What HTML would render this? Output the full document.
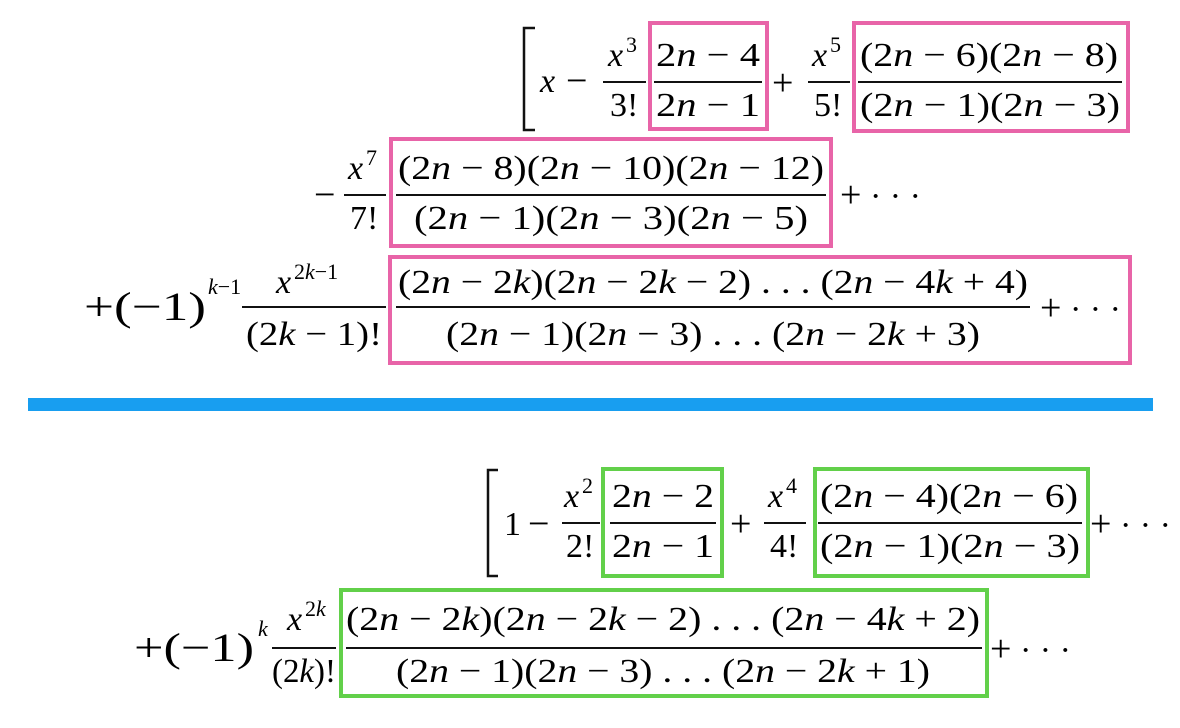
<!DOCTYPE html>
<html><head><meta charset="utf-8"><style>
html,body{margin:0;padding:0;background:#fff;}
svg{display:block;}
text{font-family:"Liberation Serif",serif;font-size:34px;fill:#000;}
.s{font-size:22px;}
.i{font-style:italic;}
</style></head><body>
<svg width="1180" height="728" viewBox="0 0 1180 728" xmlns="http://www.w3.org/2000/svg">
<g stroke="#111" stroke-width="2.5" fill="none">
<path d="M535 28 H524 V130 H535"/>
<path d="M498 470 H488 V576 H498"/>
</g>
<!-- Row 1: bar 82 -->
<text x="540" y="92" class="i">x</text>
<text x="566" y="93" style="font-size:38px">−</text>
<line x1="603" y1="82" x2="646" y2="82" stroke="#111" stroke-width="2"/>
<text x="608" y="66" class="i">x</text><text x="626" y="52" class="s">3</text>
<text x="610" y="116">3!</text>
<line x1="654" y1="82" x2="762" y2="82" stroke="#111" stroke-width="2"/>
<text x="656" y="66" textLength="104" lengthAdjust="spacingAndGlyphs">2<tspan class="i">n</tspan> − 4</text>
<text x="656" y="116" textLength="104" lengthAdjust="spacingAndGlyphs">2<tspan class="i">n</tspan> − 1</text>
<text x="772" y="95" style="font-size:38px">+</text>
<line x1="808" y1="82" x2="850" y2="82" stroke="#111" stroke-width="2"/>
<text x="812" y="66" class="i">x</text><text x="830" y="52" class="s">5</text>
<text x="814" y="116">5!</text>
<line x1="858" y1="82" x2="1122" y2="82" stroke="#111" stroke-width="2"/>
<text x="860" y="66" textLength="258" lengthAdjust="spacingAndGlyphs">(2<tspan class="i">n</tspan> − 6)(2<tspan class="i">n</tspan> − 8)</text>
<text x="860" y="116" textLength="260" lengthAdjust="spacingAndGlyphs">(2<tspan class="i">n</tspan> − 1)(2<tspan class="i">n</tspan> − 3)</text>
<rect x="650" y="23" width="117" height="106" fill="none" stroke="#e864a8" stroke-width="4"/>
<rect x="854" y="23" width="274" height="108" fill="none" stroke="#e864a8" stroke-width="4"/>
<!-- Row 2: bar 195 -->
<text x="314" y="207" style="font-size:38px">−</text>
<line x1="344" y1="195" x2="386" y2="195" stroke="#111" stroke-width="2"/>
<text x="348" y="179" class="i">x</text><text x="366" y="165" class="s">7</text>
<text x="350" y="229">7!</text>
<line x1="396" y1="195" x2="826" y2="195" stroke="#111" stroke-width="2"/>
<text x="398" y="179" textLength="426" lengthAdjust="spacingAndGlyphs">(2<tspan class="i">n</tspan> − 8)(2<tspan class="i">n</tspan> − 10)(2<tspan class="i">n</tspan> − 12)</text>
<text x="414" y="229" textLength="394" lengthAdjust="spacingAndGlyphs">(2<tspan class="i">n</tspan> − 1)(2<tspan class="i">n</tspan> − 3)(2<tspan class="i">n</tspan> − 5)</text>
<text x="840" y="207"><tspan style="font-size:38px">+</tspan> · · ·</text>
<rect x="391" y="139" width="440" height="107" fill="none" stroke="#e864a8" stroke-width="4"/>
<!-- Row 3: bar 307 -->
<text x="84" y="320" style="font-size:40px" textLength="122" lengthAdjust="spacingAndGlyphs">+(−1)</text>
<text x="208" y="294" class="s"><tspan class="i">k</tspan>−1</text>
<line x1="242" y1="307" x2="386" y2="307" stroke="#111" stroke-width="2"/>
<text x="276" y="293" class="i">x</text><text x="294" y="279" class="s">2<tspan class="i">k</tspan>−1</text>
<text x="246" y="345" textLength="136" lengthAdjust="spacingAndGlyphs">(2<tspan class="i">k</tspan> − 1)!</text>
<line x1="396" y1="307" x2="1030" y2="307" stroke="#111" stroke-width="2"/>
<text x="398" y="293" textLength="630" lengthAdjust="spacingAndGlyphs">(2<tspan class="i">n</tspan> − 2<tspan class="i">k</tspan>)(2<tspan class="i">n</tspan> − 2<tspan class="i">k</tspan> − 2) . . . (2<tspan class="i">n</tspan> − 4<tspan class="i">k</tspan> + 4)</text>
<text x="446" y="345" textLength="534" lengthAdjust="spacingAndGlyphs">(2<tspan class="i">n</tspan> − 1)(2<tspan class="i">n</tspan> − 3) . . . (2<tspan class="i">n</tspan> − 2<tspan class="i">k</tspan> + 3)</text>
<text x="1040" y="320"><tspan style="font-size:38px">+</tspan> · · ·</text>
<rect x="390" y="257" width="740" height="106" fill="none" stroke="#e864a8" stroke-width="4"/>
<!-- Blue bar -->
<rect x="28" y="398" width="1125" height="13" fill="#189ef0"/>
<!-- Row 4: bar 523 -->
<text x="504" y="535">1</text>
<text x="528" y="536" style="font-size:38px">−</text>
<line x1="562" y1="523" x2="600" y2="523" stroke="#111" stroke-width="2"/>
<text x="564" y="507" class="i">x</text><text x="582" y="493" class="s">2</text>
<text x="566" y="557">2!</text>
<line x1="610" y1="523" x2="716" y2="523" stroke="#111" stroke-width="2"/>
<text x="612" y="507" textLength="102" lengthAdjust="spacingAndGlyphs">2<tspan class="i">n</tspan> − 2</text>
<text x="612" y="557" textLength="102" lengthAdjust="spacingAndGlyphs">2<tspan class="i">n</tspan> − 1</text>
<text x="730" y="536" style="font-size:38px">+</text>
<line x1="764" y1="523" x2="806" y2="523" stroke="#111" stroke-width="2"/>
<text x="768" y="507" class="i">x</text><text x="786" y="493" class="s">4</text>
<text x="770" y="557">4!</text>
<line x1="818" y1="523" x2="1082" y2="523" stroke="#111" stroke-width="2"/>
<text x="820" y="507" textLength="258" lengthAdjust="spacingAndGlyphs">(2<tspan class="i">n</tspan> − 4)(2<tspan class="i">n</tspan> − 6)</text>
<text x="820" y="557" textLength="260" lengthAdjust="spacingAndGlyphs">(2<tspan class="i">n</tspan> − 1)(2<tspan class="i">n</tspan> − 3)</text>
<text x="1090" y="536"><tspan style="font-size:38px">+</tspan> · · ·</text>
<rect x="603" y="469" width="119" height="107" fill="none" stroke="#62d04a" stroke-width="4"/>
<rect x="815" y="469" width="273" height="107" fill="none" stroke="#62d04a" stroke-width="4"/>
<!-- Row 5: bar 648 -->
<text x="134" y="661" style="font-size:40px" textLength="120" lengthAdjust="spacingAndGlyphs">+(−1)</text>
<text x="258" y="636" class="s i">k</text>
<line x1="272" y1="648" x2="336" y2="648" stroke="#111" stroke-width="2"/>
<text x="287" y="630" class="i">x</text><text x="305" y="616" class="s">2<tspan class="i">k</tspan></text>
<text x="272" y="682" textLength="64" lengthAdjust="spacingAndGlyphs">(2<tspan class="i">k</tspan>)!</text>
<line x1="346" y1="648" x2="982" y2="648" stroke="#111" stroke-width="2"/>
<text x="346" y="630" textLength="634" lengthAdjust="spacingAndGlyphs">(2<tspan class="i">n</tspan> − 2<tspan class="i">k</tspan>)(2<tspan class="i">n</tspan> − 2<tspan class="i">k</tspan> − 2) . . . (2<tspan class="i">n</tspan> − 4<tspan class="i">k</tspan> + 2)</text>
<text x="396" y="682" textLength="534" lengthAdjust="spacingAndGlyphs">(2<tspan class="i">n</tspan> − 1)(2<tspan class="i">n</tspan> − 3) . . . (2<tspan class="i">n</tspan> − 2<tspan class="i">k</tspan> + 1)</text>
<text x="990" y="661"><tspan style="font-size:38px">+</tspan> · · ·</text>
<rect x="341" y="590" width="646" height="106" fill="none" stroke="#62d04a" stroke-width="4"/>
</svg>
</body></html>
